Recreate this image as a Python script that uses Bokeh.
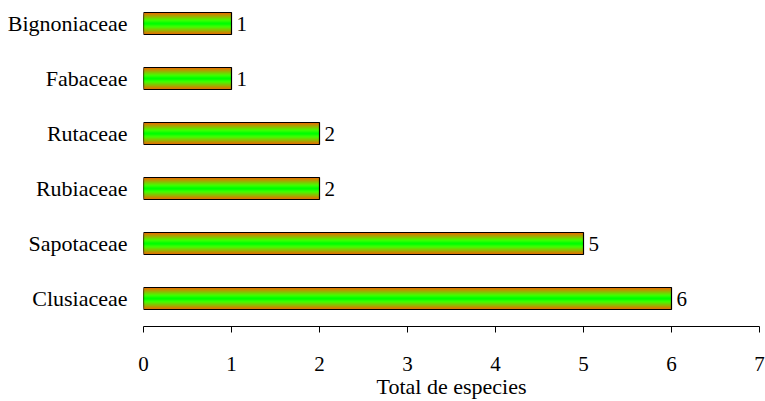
from bokeh.plotting import figure
from bokeh.models import Range1d, FixedTicker, ColumnDataSource
from bokeh.embed import file_html
from bokeh.resources import INLINE
from bokeh.core.properties import value

families = ["Clusiaceae", "Sapotaceae", "Rubiaceae", "Rutaceae", "Fabaceae", "Bignoniaceae"]
counts = [6, 5, 2, 2, 1, 1]
x_ticks = [0, 1, 2, 3, 4, 5, 6, 7]

pos = list(range(len(families)))
src = ColumnDataSource(dict(y=pos, right=counts, lab=[str(c) for c in counts]))

p = figure(width=765, height=401, output_backend="svg", toolbar_location=None,
           x_range=Range1d(0, 7), y_range=Range1d(-0.509, 5.273),
           min_border_left=143, min_border_right=6, min_border_top=8, min_border_bottom=75)
p.outline_line_color = None
p.xgrid.visible = False
p.ygrid.visible = False

font = "serif"

# vertical gradient: orange edges -> green center, drawn as nested bars
bar_h = 0.4
N = 16
for i in range(N):
    t = i / (N - 1)
    r = 235 * (1 - t)
    g = 105 + 150 * min(1.0, t * 1.4)
    col = "#%02x%02x%02x" % (int(round(r)), int(round(g)), 0)
    h = bar_h * (1 - i / N)
    p.hbar(y="y", right="right", left=0, height=h, source=src,
           fill_color=col, line_color=None)
p.hbar(y="y", right="right", left=0, height=bar_h, source=src,
       fill_color=None, line_color="black", line_width=1.2)

p.text(x="right", y="y", text="lab", source=src, x_offset=5,
       text_baseline="middle", text_align="left", text_font=value(font),
       text_font_size="21px", text_color="black")

xa = p.xaxis[0]
xa.ticker = FixedTicker(ticks=x_ticks)
xa.minor_tick_line_color = None
xa.major_tick_in = 0
xa.major_tick_out = 6
xa.axis_line_color = "black"
xa.major_tick_line_color = "black"
xa.major_label_text_font = font
xa.major_label_text_font_size = "21px"
xa.major_label_text_color = "black"
xa.major_label_standoff = 24
xa.axis_label = "Total de especies"
xa.axis_label_text_font = font
xa.axis_label_text_font_size = "22px"
xa.axis_label_text_font_style = "normal"
xa.axis_label_text_color = "black"
xa.axis_label_standoff = 0

ya = p.yaxis[0]
ya.ticker = FixedTicker(ticks=pos)
ya.major_label_overrides = {i: f for i, f in zip(pos, families)}
ya.axis_line_color = None
ya.major_tick_line_color = None
ya.minor_tick_line_color = None
ya.major_label_text_font = font
ya.major_label_text_font_size = "22px"
ya.major_label_text_color = "black"
ya.major_label_standoff = 10

open("out.html", "w").write(file_html(p, INLINE))
